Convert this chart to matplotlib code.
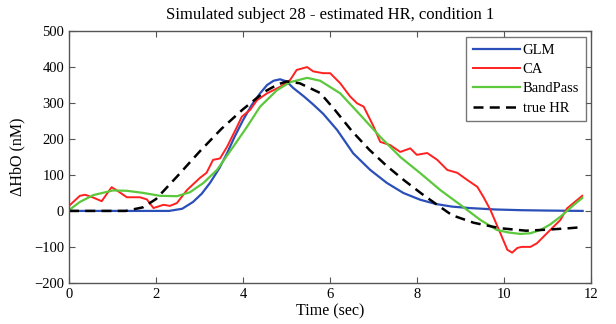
import numpy as np
import matplotlib
matplotlib.use("Agg")
import matplotlib.pyplot as plt

plt.rcParams['font.family'] = ['Liberation Serif', 'DejaVu Serif']

# True HR (black dashed)
true_x = [0.0, 0.5, 1.0, 1.3, 1.7, 2.0, 2.5, 3.0, 3.5, 4.0, 4.5, 4.8, 5.0, 5.3, 5.77, 6.1, 6.5, 6.9,
          7.3, 7.7, 8.1, 8.4, 8.8, 9.3, 9.9, 10.5, 11.0, 11.5, 11.8]
true_y = [0, 0, 0, 0, 10, 33, 98, 165, 228, 283, 332, 352, 360, 355, 328, 282, 222, 170,
          125, 85, 48, 22, -12, -33, -48, -55, -52, -48, -45]

# GLM (blue)
glm_x = [0.0, 1.0, 2.0, 2.3, 2.6, 2.85, 3.05, 3.24, 3.45, 3.63, 3.8, 4.0, 4.2, 4.39, 4.55, 4.7, 4.85,
         5.0, 5.15, 5.4, 5.6, 5.84, 6.16, 6.53, 6.92, 7.3, 7.68, 8.07, 8.44, 8.8, 9.2, 9.8, 10.4, 11.0, 11.8]
glm_y = [0, 0, 0, 0, 6, 25, 48, 78, 118, 160, 205, 253, 295, 327, 350, 362, 366,
         360, 342, 318, 297, 270, 225, 160, 114, 78, 50, 31, 19, 12, 8, 4, 2, 1, 0]

# CA (red)
ca_x = [0.0, 0.25, 0.37, 0.56, 0.75, 0.98, 1.1, 1.33, 1.63, 1.79, 1.94, 2.17, 2.32, 2.48, 2.71, 3.01,
        3.16, 3.31, 3.47, 3.63, 3.86, 3.97, 4.16, 4.32, 4.55, 4.85, 5.08, 5.23, 5.47, 5.61, 5.84, 6.0,
        6.23, 6.46, 6.62, 6.77, 7.0, 7.15, 7.38, 7.61, 7.84, 7.99, 8.23, 8.46, 8.69, 8.92, 9.15, 9.38,
        9.52, 9.68, 9.91, 10.07, 10.18, 10.3, 10.4, 10.6, 10.75, 10.98, 11.29, 11.44, 11.67, 11.79]
ca_y = [14, 42, 45, 37, 27, 66, 57, 38, 38, 32, 8, 17, 14, 22, 58, 92,
        106, 142, 146, 178, 234, 262, 281, 308, 327, 345, 364, 392, 400, 388, 383, 383,
        355, 318, 299, 290, 234, 192, 183, 164, 174, 156, 161, 142, 114, 106, 86, 67,
        39, 3, -62, -108, -116, -103, -100, -100, -90, -62, -25, 7, 30, 42]

# BandPass (green)
bp_x = [0.0, 0.25, 0.56, 1.01, 1.33, 1.71, 2.09, 2.48, 2.78, 3.09, 3.4, 3.77, 4.09, 4.39, 4.78, 5.08,
        5.47, 5.77, 6.23, 6.69, 7.15, 7.61, 8.07, 8.53, 8.99, 9.45, 9.83, 10.1, 10.37, 10.6, 10.83,
        11.05, 11.29, 11.6, 11.79]
bp_y = [2, 25, 44, 57, 56, 50, 42, 41, 52, 78, 114, 178, 234, 290, 336, 358,
        370, 362, 327, 267, 206, 150, 105, 58, 17, -25, -53, -60, -64, -62, -53,
        -38, -16, 17, 36]

fig = plt.figure(figsize=(6.16, 3.24), dpi=100)
ax = fig.add_axes([0.112, 0.127, 0.848, 0.777])

ax.plot(glm_x, glm_y, color='#2b4fb8', lw=1.6, label='GLM')
ax.plot(ca_x, ca_y, color='#ff2020', lw=1.4, label='CA')
ax.plot(bp_x, bp_y, color='#5cc83c', lw=1.6, label='BandPass')
ax.plot(true_x, true_y, color='black', lw=1.8, ls=(0, (4, 2.5)), label='true HR')

ax.set_xlim(0, 12)
ax.set_ylim(-200, 500)
ax.set_xticks([0, 2, 4, 6, 8, 10, 12])
ax.set_yticks([-200, -100, 0, 100, 200, 300, 400, 500])
ax.tick_params(direction='in', top=True, right=True, labelsize=10.5, length=4, color='#555555')
for s in ax.spines.values():
    s.set_color('#555555')
    s.set_linewidth(1.0)

ax.set_xlabel('Time (sec)', fontsize=11.5, labelpad=2)
ax.set_ylabel('ΔHbO (nM)', fontsize=11.5, labelpad=6)
ax.set_title('Simulated subject 28 - estimated HR, condition 1', fontsize=12, pad=9)

leg = ax.legend(loc='upper right', fontsize=10.5, frameon=True, fancybox=False,
                edgecolor='#555555', handlelength=3.2, handletextpad=0.2,
                borderaxespad=0.4, labelspacing=0.42, borderpad=0.45)
leg.get_frame().set_linewidth(1.0)

fig.savefig('out.png', dpi=100)
